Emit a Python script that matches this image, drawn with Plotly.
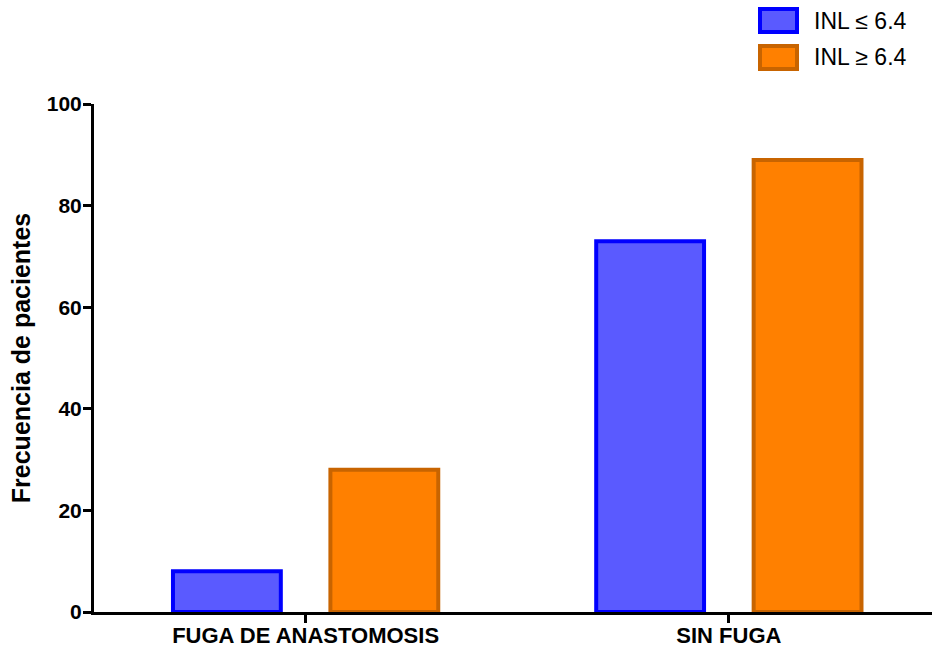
import plotly.graph_objects as go

# Data
categories = ["FUGA DE ANASTOMOSIS", "SIN FUGA"]
series_names = ["INL \u2264 6.4", "INL \u2265 6.4"]
inl_low = [8, 73]
inl_high = [28, 89]
y_ticks = [0, 20, 40, 60, 80, 100]

# Styles
fills = ["#5A5AFF", "#FF8000"]
edges = ["#0000FF", "#C86400"]
FONT = "Arial, Liberation Sans, Helvetica, sans-serif"

W, H = 932, 648
ML, MR, MT, MB = 94, 0, 104, 36

fig = go.Figure()
for name, vals, fc, ec in zip(series_names, [inl_low, inl_high], fills, edges):
    fig.add_trace(go.Bar(
        x=categories, y=vals, name=name,
        marker=dict(color=fc, line=dict(color=ec, width=4)),
        showlegend=False,
    ))

# Manual legend (large swatches), placed in paper coordinates
def px_to_paper_x(px):
    return (px - ML) / (W - ML - MR)

def px_to_paper_y(py):
    return (H - MB - py) / (H - MT - MB)

legend_rows = [(9, 32), (46, 69)]
for (top, bot), name, fc, ec in zip(legend_rows, series_names, fills, edges):
    fig.add_shape(
        type="rect", xref="paper", yref="paper",
        x0=px_to_paper_x(760), x1=px_to_paper_x(797),
        y0=px_to_paper_y(bot), y1=px_to_paper_y(top),
        fillcolor=fc, line=dict(color=ec, width=4),
    )
    fig.add_annotation(
        xref="paper", yref="paper",
        x=px_to_paper_x(812), y=px_to_paper_y((top + bot) / 2),
        text=name, showarrow=False, xanchor="left", yanchor="middle",
        font=dict(family=FONT, size=23, color="black"),
    )

fig.update_layout(
    width=W, height=H,
    margin=dict(l=ML, r=MR, t=MT, b=MB),
    paper_bgcolor="white", plot_bgcolor="white",
    barmode="group", bargap=0.256, bargroupgap=0.315,
    font=dict(family=FONT, color="black"),
)
fig.update_xaxes(
    range=[-0.5, 1.48], automargin=False,
    showline=True, linecolor="black", linewidth=3,
    ticks="outside", ticklen=8, tickwidth=3, tickcolor="black",
    ticklabelstandoff=-6,
    tickfont=dict(family=FONT, size=22, color="black", weight="bold"),
    showgrid=False, zeroline=False,
)
fig.update_yaxes(
    range=[0, 100], tickvals=y_ticks, automargin=False,
    showline=True, linecolor="black", linewidth=3,
    ticks="outside", ticklen=8, tickwidth=3, tickcolor="black",
    ticklabelstandoff=-3,
    tickfont=dict(family=FONT, size=21, color="black", weight="bold"),
    showgrid=False, zeroline=False,
    title=dict(text="Frecuencia de pacientes", standoff=10,
               font=dict(family=FONT, size=25, color="black", weight="bold")),
)

fig.write_html("out.html")
